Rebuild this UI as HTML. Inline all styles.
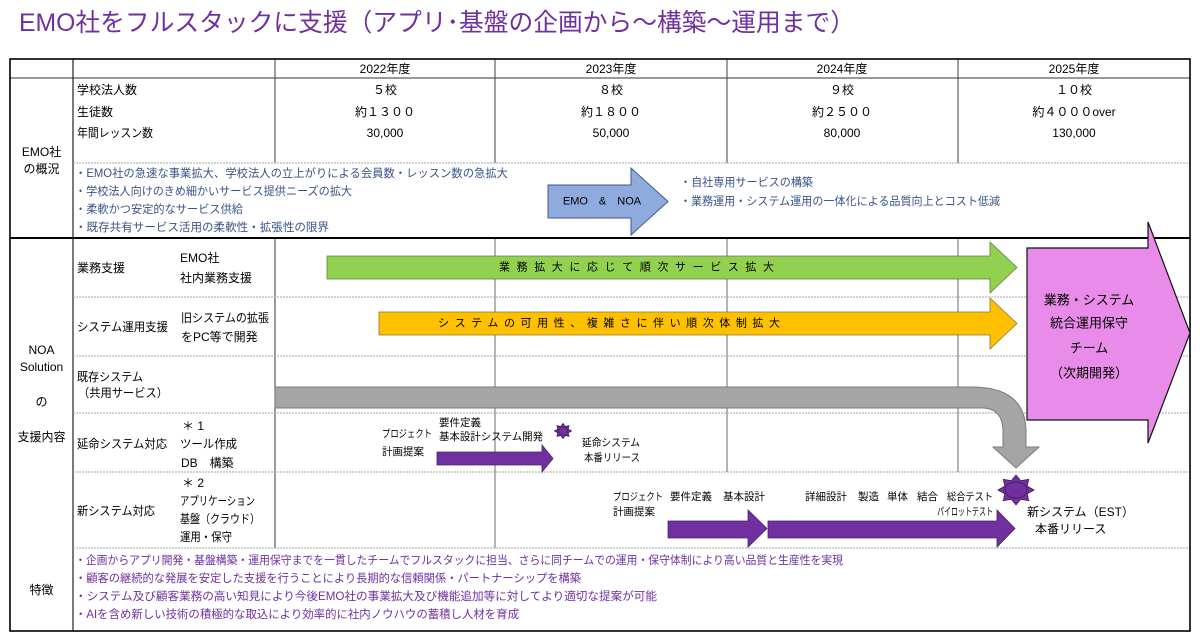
<!DOCTYPE html>
<html><head><meta charset="utf-8"><style>
html,body{margin:0;padding:0;background:#fff;}
svg{display:block;}
text{dominant-baseline:central;}
</style></head><body>
<svg width="1200" height="642" viewBox="0 0 1200 642" xmlns="http://www.w3.org/2000/svg" font-family="'Liberation Sans','Noto Sans CJK JP',sans-serif">
<rect width="1200" height="642" fill="#fff"/>

<!-- Title -->
<text x="19" y="23" font-size="25" fill="#7030A0" textLength="836" lengthAdjust="spacingAndGlyphs">EMO社をフルスタックに支援（アプリ･基盤の企画から～構築～運用まで）</text>

<!-- Table lines -->
<g fill="none">
  <line x1="10" y1="78" x2="1190" y2="78" stroke="#333" stroke-width="1"/>
  <line x1="73" y1="59" x2="73" y2="631" stroke="#222" stroke-width="1.2"/>
  <line x1="275" y1="59" x2="275" y2="163" stroke="#404040" stroke-width="1"/>
  <line x1="495" y1="59" x2="495" y2="163" stroke="#404040" stroke-width="1"/>
  <line x1="727" y1="59" x2="727" y2="163" stroke="#404040" stroke-width="1"/>
  <line x1="958" y1="59" x2="958" y2="163" stroke="#404040" stroke-width="1"/>
  <line x1="275" y1="238" x2="275" y2="548" stroke="#595959" stroke-width="1.2"/>
  <line x1="495" y1="238" x2="495" y2="548" stroke="#6a6a6a" stroke-width="1"/>
  <line x1="727" y1="238" x2="727" y2="472" stroke="#6a6a6a" stroke-width="1"/>
  <line x1="958" y1="238" x2="958" y2="472" stroke="#6a6a6a" stroke-width="1"/>
  <g stroke="#a6a6a6" stroke-width="1" stroke-dasharray="2,1">
    <line x1="73" y1="163" x2="1190" y2="163"/>
    <line x1="73" y1="297" x2="1190" y2="297"/>
    <line x1="73" y1="356" x2="1190" y2="356"/>
    <line x1="73" y1="413" x2="1190" y2="413"/>
    <line x1="73" y1="472" x2="1190" y2="472"/>
    <line x1="73" y1="548" x2="1190" y2="548"/>
  </g>
  <line x1="10" y1="238" x2="1190" y2="238" stroke="#000" stroke-width="2"/>
  <rect x="10" y="59" width="1180" height="572" stroke="#000" stroke-width="1.6"/>
</g>

<!-- Header years / values / col1 -->
<g font-size="12" fill="#000" text-anchor="middle">
  <text x="385" y="69">2022年度</text>
  <text x="611" y="69">2023年度</text>
  <text x="842" y="69">2024年度</text>
  <text x="1074" y="69">2025年度</text>
  <text x="385" y="90">５校</text>
  <text x="611" y="90">８校</text>
  <text x="842" y="90">９校</text>
  <text x="1074" y="90">１０校</text>
  <text x="385" y="112">約１３００</text>
  <text x="611" y="112">約１８００</text>
  <text x="842" y="112">約２５００</text>
  <text x="1074" y="112">約４０００over</text>
  <text x="385" y="133">30,000</text>
  <text x="611" y="133">50,000</text>
  <text x="842" y="133">80,000</text>
  <text x="1074" y="133">130,000</text>
  <text x="41.5" y="152">EMO社</text>
  <text x="41.5" y="169">の概況</text>
  <text x="41.5" y="350">NOA</text>
  <text x="41.5" y="367">Solution</text>
  <text x="41.5" y="402">の</text>
  <text x="41.5" y="437">支援内容</text>
  <text x="41.5" y="590">特徴</text>
</g>

<!-- Column 2 labels -->
<g font-size="12" fill="#000">
  <text x="77" y="90">学校法人数</text>
  <text x="77" y="112">生徒数</text>
  <text x="77" y="133" textLength="76" lengthAdjust="spacingAndGlyphs">年間レッスン数</text>
  <text x="77" y="268">業務支援</text>
  <text x="180" y="258">EMO社</text>
  <text x="180" y="278">社内業務支援</text>
  <text x="77" y="327" textLength="91" lengthAdjust="spacingAndGlyphs">システム運用支援</text>
  <text x="181" y="318" textLength="88" lengthAdjust="spacingAndGlyphs">旧システムの拡張</text>
  <text x="181" y="337">をPC等で開発</text>
  <text x="77" y="377" textLength="66" lengthAdjust="spacingAndGlyphs">既存システム</text>
  <text x="78" y="393" textLength="90" lengthAdjust="spacingAndGlyphs">（共用サービス）</text>
  <text x="77" y="444" textLength="90" lengthAdjust="spacingAndGlyphs">延命システム対応</text>
  <text x="182" y="426">＊ 1</text>
  <text x="180" y="444" textLength="57" lengthAdjust="spacingAndGlyphs">ツール作成</text>
  <text x="181" y="463">DB　構築</text>
  <text x="77" y="511" textLength="78" lengthAdjust="spacingAndGlyphs">新システム対応</text>
  <text x="182" y="483">＊ 2</text>
  <text x="180" y="501" textLength="75" lengthAdjust="spacingAndGlyphs">アプリケーション</text>
  <text x="180" y="519" textLength="80" lengthAdjust="spacingAndGlyphs">基盤（クラウド）</text>
  <text x="180" y="537" textLength="52" lengthAdjust="spacingAndGlyphs">運用・保守</text>
</g>

<!-- EMO bullets -->
<g font-size="11.5" fill="#3A5488">
  <text x="75" y="174" textLength="433" lengthAdjust="spacingAndGlyphs">・EMO社の急速な事業拡大、学校法人の立上がりによる会員数・レッスン数の急拡大</text>
  <text x="75" y="192" textLength="277" lengthAdjust="spacingAndGlyphs">・学校法人向けのきめ細かいサービス提供ニーズの拡大</text>
  <text x="75" y="210" textLength="168" lengthAdjust="spacingAndGlyphs">・柔軟かつ安定的なサービス供給</text>
  <text x="75" y="228" textLength="254" lengthAdjust="spacingAndGlyphs">・既存共有サービス活用の柔軟性・拡張性の限界</text>
  <text x="680" y="183" textLength="133" lengthAdjust="spacingAndGlyphs">・自社専用サービスの構築</text>
  <text x="680" y="202" textLength="320" lengthAdjust="spacingAndGlyphs">・業務運用・システム運用の一体化による品質向上とコスト低減</text>
</g>

<!-- EMO & NOA arrow -->
<polygon points="548,185 631,185 631,168 668,201.5 631,235 631,218 548,218" fill="#8FAADC" stroke="#3F5A8A" stroke-width="1"/>
<text x="602" y="201.5" font-size="11" fill="#000" text-anchor="middle">EMO　&amp;　NOA</text>

<!-- Green arrow -->
<polygon points="327,256 990,256 990,242 1017,267.5 990,293 990,279 327,279" fill="#92D050" stroke="#5E7F40" stroke-width="0.8"/>
<text x="499" y="267.5" font-size="11" fill="#000" textLength="275" lengthAdjust="spacing">業務拡大に応じて順次サービス拡大</text>

<!-- Orange arrow -->
<polygon points="379,312 990,312 990,298 1017,323.5 990,349 990,335 379,335" fill="#FFC000" stroke="#8A7436" stroke-width="0.8"/>
<text x="438" y="323.5" font-size="11" fill="#000" textLength="342" lengthAdjust="spacing">システムの可用性、複雑さに伴い順次体制拡大</text>

<!-- Grey curved arrow -->
<path d="M275,387 L972,387 Q1026,387 1026,432 L1026,447 L1039,447 L1016,468 L993,447 L1003,447 L1003,432 Q1003,408 982,408 L275,408 Z" fill="#A5A5A5" stroke="#7A7A7A" stroke-width="1"/>

<!-- Pink pentagon -->
<polygon points="1027,248 1148,248 1148,222 1190,333 1148,443 1148,420 1027,420" fill="#E98BE9" stroke="#111" stroke-width="1.2"/>
<g font-size="13" fill="#000" text-anchor="middle">
  <text x="1089" y="300">業務・システム</text>
  <text x="1089" y="323">統合運用保守</text>
  <text x="1089" y="348">チーム</text>
  <text x="1089" y="373">（次期開発）</text>
</g>

<!-- 延命 arrow and labels -->
<polygon points="437,452 542,452 542,445 553,458.5 542,472 542,465 437,465" fill="#7030A0" stroke="#4B2070" stroke-width="0.8"/>
<g font-size="10.5" fill="#000">
  <text x="382" y="434" textLength="50" lengthAdjust="spacingAndGlyphs">プロジェクト</text>
  <text x="382" y="452">計画提案</text>
  <text x="439" y="423">要件定義</text>
  <text x="439" y="437" textLength="104" lengthAdjust="spacingAndGlyphs">基本設計システム開発</text>
  <text x="582" y="443" textLength="58" lengthAdjust="spacingAndGlyphs">延命システム</text>
  <text x="584" y="458" textLength="56" lengthAdjust="spacingAndGlyphs">本番リリース</text>
</g>
<polygon transform="translate(563,431) scale(8.5,7.5)" points="1,0 .6,.25 .707,.707 .25,.6 0,1 -.25,.6 -.707,.707 -.6,.25 -1,0 -.6,-.25 -.707,-.707 -.25,-.6 0,-1 .25,-.6 .707,-.707 .6,-.25" fill="#7030A0" stroke="#3D1A5C" stroke-width="0.8" vector-effect="non-scaling-stroke"/>
<ellipse cx="563" cy="431" rx="4.5" ry="4" fill="#7030A0" stroke="#3D1A5C" stroke-width="0.6"/>

<!-- 新システム arrows and labels -->
<polygon points="668,521 748,521 748,510 767,528.5 748,547 748,538 668,538" fill="#7030A0" stroke="#4B2070" stroke-width="0.8"/>
<polygon points="768,521 997,521 997,510 1015,528.5 997,547 997,538 768,538" fill="#7030A0" stroke="#4B2070" stroke-width="0.8"/>
<g font-size="10.5" fill="#000">
  <text x="613" y="497" textLength="50" lengthAdjust="spacingAndGlyphs">プロジェクト</text>
  <text x="613" y="512">計画提案</text>
  <text x="670" y="497">要件定義</text>
  <text x="723" y="497">基本設計</text>
  <text x="805" y="497">詳細設計</text>
  <text x="858" y="497">製造</text>
  <text x="887" y="497">単体</text>
  <text x="917" y="497">結合</text>
  <text x="947" y="497" textLength="46" lengthAdjust="spacingAndGlyphs">総合テスト</text>
  <text x="937" y="512" textLength="56" lengthAdjust="spacingAndGlyphs">パイロットテスト</text>
</g>
<polygon transform="translate(1016,490) scale(18,15)" points="1,0 .62,.26 .707,.707 .26,.62 0,1 -.26,.62 -.707,.707 -.62,.26 -1,0 -.62,-.26 -.707,-.707 -.26,-.62 0,-1 .26,-.62 .707,-.707 .62,-.26" fill="#7030A0" stroke="#3D1A5C" stroke-width="0.8" vector-effect="non-scaling-stroke"/>
<ellipse cx="1016" cy="490" rx="11" ry="8" fill="#7030A0" stroke="#3D1A5C" stroke-width="0.8"/>
<g font-size="12" fill="#000">
  <text x="1027" y="512">新システム（EST）</text>
  <text x="1035" y="529">本番リリース</text>
</g>

<!-- 特徴 bullets -->
<g font-size="11.5" fill="#7030A0">
  <text x="75" y="561" textLength="768" lengthAdjust="spacingAndGlyphs">・企画からアプリ開発・基盤構築・運用保守までを一貫したチームでフルスタックに担当、さらに同チームでの運用・保守体制により高い品質と生産性を実現</text>
  <text x="75" y="579" textLength="506" lengthAdjust="spacingAndGlyphs">・顧客の継続的な発展を安定した支援を行うことにより長期的な信頼関係・パートナーシップを構築</text>
  <text x="75" y="597" textLength="582" lengthAdjust="spacingAndGlyphs">・システム及び顧客業務の高い知見により今後EMO社の事業拡大及び機能追加等に対してより適切な提案が可能</text>
  <text x="75" y="615" textLength="444" lengthAdjust="spacingAndGlyphs">・AIを含め新しい技術の積極的な取込により効率的に社内ノウハウの蓄積し人材を育成</text>
</g>
</svg>
</body></html>
